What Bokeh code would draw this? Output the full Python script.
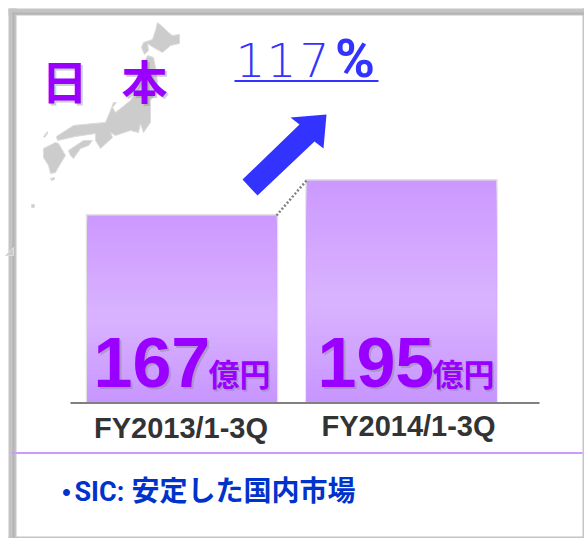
from bokeh.plotting import figure
from bokeh.models import Range1d
from bokeh.core.properties import value
from bokeh.embed import file_html
from bokeh.resources import INLINE

# --- data ---
categories = ["FY2013/1-3Q", "FY2014/1-3Q"]
sales = [167, 195]
unit = "億円"
title_chars = ["日", "本"]
growth_digits = ["1", "1", "7"]
growth_unit = "%"
note_label = "SIC:"
note_text = "安定した国内市場"

# --- layout ---
W, H = 584, 538
BASE = 17.4
VIOLET = "#9900ff"
BLUE = "#3333ff"
CJK = value("Noto Sans CJK JP")
LAT = value("Liberation Sans")
ROBOTO = value("Roboto")

p = figure(width=W, height=H, output_backend="svg", toolbar_location=None,
           min_border=0, outline_line_color=None, background_fill_color="white",
           x_range=Range1d(-0.8269, 1.8337), y_range=Range1d(-91.4, 339.0))
p.axis.visible = False
p.grid.visible = False
p.extra_x_ranges["px"] = Range1d(0, W)
p.extra_y_ranges["px"] = Range1d(H, 0)
PX = dict(x_range_name="px", y_range_name="px")


def txt(x, y, s, size, color, font=LAT, style="bold", align="left", alpha=1.0):
    p.text([x], [y], text=[s], text_font=font, text_font_size=f"{size}px", text_font_style=style,
           text_color=color, text_align=align, text_baseline="middle", text_alpha=alpha, **PX)


def shadow_txt(x, y, s, size, color, font=LAT, align="left", d=2):
    txt(x + d, y + d, s, size, "#808080", font, align=align, alpha=0.4)
    txt(x, y, s, size, color, font, align=align)


# frame
p.quad(left=[8, 8, 582, 8], right=[16, 584, 584, 584], top=[8, 8, 8, 536], bottom=[538, 15, 538, 538],
       fill_color="#c4c4c4", line_color=None, **PX)
p.quad(left=[12, 12], right=[14, 584], top=[12, 12], bottom=[538, 14], fill_color="#b4b4b4", line_color=None, **PX)

# map of Japan
MAP = dict(fill_color="#cccccc", line_color="#dcdcdc", line_width=1, line_join="round")
hokkaido = [(157, 22), (163, 27), (168, 32), (172, 35), (179, 34), (179, 43), (170, 45), (162, 52), (153, 47),
            (147, 43), (148, 50), (144, 54), (141, 47), (143, 42), (152, 39), (155, 30)]
honshu = [(147, 55), (153, 57), (155, 67), (158, 90), (150, 100), (150, 122), (143, 132), (140, 123), (138, 132),
          (130, 130), (115, 135), (110, 132), (112, 137), (100, 148), (95, 140), (95, 133), (75, 136), (57, 140),
          (56, 136), (73, 125), (93, 123), (105, 122), (110, 110), (113, 102), (116, 102), (112, 107), (115, 112),
          (130, 100), (142, 80), (143, 63)]
shikoku = [(68, 150), (83, 140), (92, 140), (88, 145), (80, 148), (73, 158), (70, 155)]
kyushu = [(43, 148), (55, 142), (58, 143), (65, 155), (60, 163), (55, 172), (50, 173), (48, 165), (43, 157)]
isle1 = [(43, 136), (47, 131), (47, 133), (44, 137)]
isle2 = [(50, 178), (54, 177), (54, 179), (51, 180)]
isle3 = [(31, 204), (34, 204), (34, 207), (31, 207)]
isle4 = [(5, 255), (13, 247), (13, 255)]
for poly in (hokkaido, honshu, shikoku, kyushu, isle1, isle2, isle3, isle4):
    p.patch([a for a, _ in poly], [b for _, b in poly], **MAP, **PX)

# bars with vertical gradient (drawn on the value scale; each band overlaps the next to avoid seams)
BAR_W = 0.863
STOPS = [(0.0, (204, 153, 255)), (0.55, (217, 179, 255)), (1.0, (199, 149, 255))]


def grad(t):
    for (t0, c0), (t1, c1) in zip(STOPS, STOPS[1:]):
        if t <= t1:
            u = (t - t0) / (t1 - t0)
            return "#%02x%02x%02x" % tuple(round(a + (b - a) * u) for a, b in zip(c0, c1))
    return "#c795ff"


for i, v in enumerate(sales):
    p.vbar(x=[i], width=BAR_W + 0.014, bottom=[BASE], top=[v + 1.2], fill_color="#e2e2e2", line_color=None)
    n = 40
    for k in range(n):
        t1 = v + (BASE - v) * k / n
        c = grad((k + 0.5) / n)
        p.vbar(x=[i], width=BAR_W, top=[t1], bottom=[BASE], fill_color=c, line_color=None)

# connector
p.line([276, 306], [215, 180], line_color="#808080", line_width=2.5, line_dash="2 2", **PX)

# baseline
p.line([70, 539], [402.5, 402.5], line_color="#808080", line_width=2, **PX)

# bar value labels
val_x = [93, 317]
unit_x = [208, 432]
for i, v in enumerate(sales):
    shadow_txt(val_x[i], 362, str(v), 70, VIOLET)
    shadow_txt(unit_x[i], 372, unit, 31, VIOLET, font=CJK, d=1.5)

# category labels
cat_xy = [(180.5, 427), (408, 425)]
for (x, y), c in zip(cat_xy, categories):
    txt(x, y, c, 29, "#333333", align="center")

# title
title_xy = [(64, 78), (144, 78)]
for (x, y), c in zip(title_xy, title_chars):
    shadow_txt(x, y, c, 46, VIOLET, font=CJK, align="center", d=2)

# growth
digit_x = [250, 281, 314]
for x, c in zip(digit_x, growth_digits):
    txt(x, 59, c, 47, BLUE, font=value("DejaVu Sans Light, Lato"), style="normal", align="center")
txt(354.5, 58, growth_unit, 54, BLUE, font=ROBOTO, align="center")
p.line([234, 378], [80.5, 80.5], line_color=BLUE, line_width=2, **PX)

# arrow
arrow = [(242, 179), (299, 124), (290, 117), (326, 114), (323, 148), (314, 141), (257, 195)]
p.patch([a for a, _ in arrow], [b for _, b in arrow], fill_color=BLUE, line_color=None, **PX)

# divider
p.line([11, 582], [452.5, 452.5], line_color="#cc99ff", line_width=2, **PX)

# note
NOTE = "#0033cc"
txt(66, 491, "•", 24, NOTE, font=LAT, align="center")
txt(74, 491, note_label, 27, NOTE, font=ROBOTO)
txt(131, 488, note_text, 28, NOTE, font=CJK)

open("out.html", "w").write(file_html(p, INLINE))
